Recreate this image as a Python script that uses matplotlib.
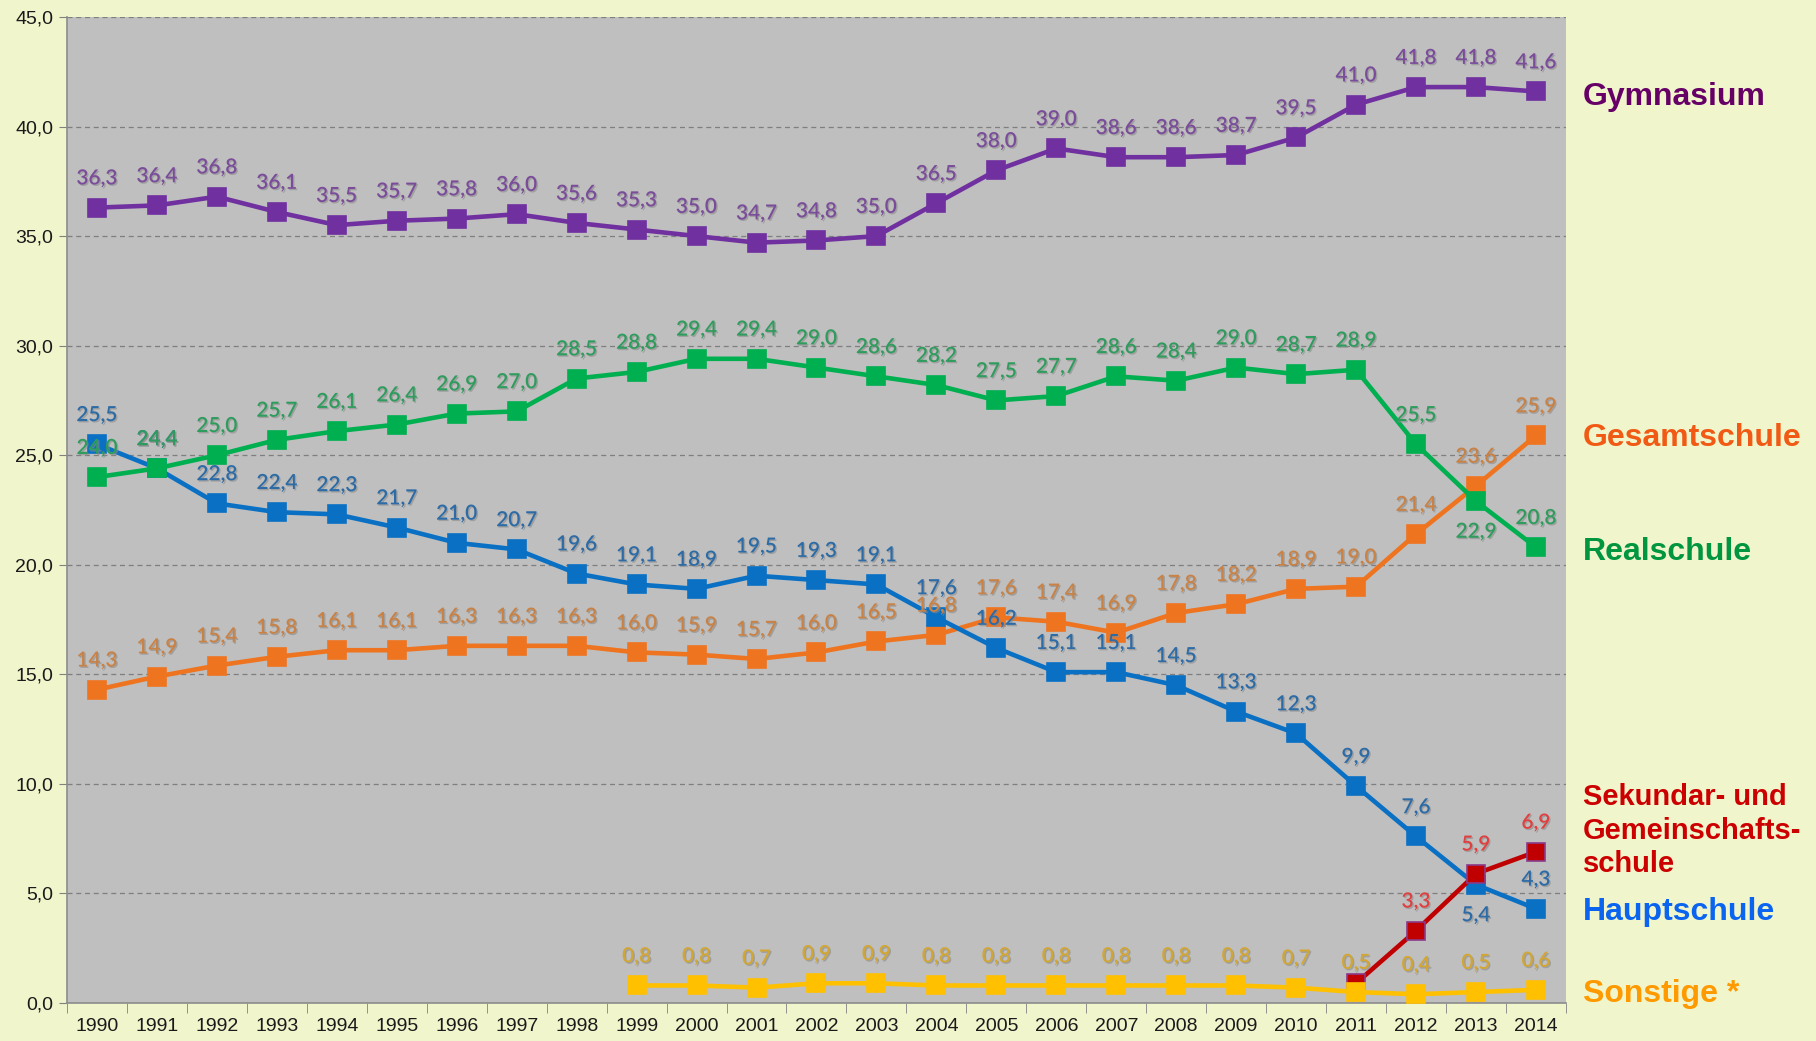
import matplotlib.pyplot as plt
import matplotlib.patheffects as pe
from matplotlib.ticker import FixedLocator, FuncFormatter

# --- data ---
years = list(range(1990, 2015))

gymnasium = [36.3, 36.4, 36.8, 36.1, 35.5, 35.7, 35.8, 36.0, 35.6, 35.3, 35.0, 34.7, 34.8,
             35.0, 36.5, 38.0, 39.0, 38.6, 38.6, 38.7, 39.5, 41.0, 41.8, 41.8, 41.6]
realschule = [24.0, 24.4, 25.0, 25.7, 26.1, 26.4, 26.9, 27.0, 28.5, 28.8, 29.4, 29.4, 29.0,
              28.6, 28.2, 27.5, 27.7, 28.6, 28.4, 29.0, 28.7, 28.9, 25.5, 22.9, 20.8]
hauptschule = [25.5, 24.4, 22.8, 22.4, 22.3, 21.7, 21.0, 20.7, 19.6, 19.1, 18.9, 19.5, 19.3,
               19.1, 17.6, 16.2, 15.1, 15.1, 14.5, 13.3, 12.3, 9.9, 7.6, 5.4, 4.3]
gesamtschule = [14.3, 14.9, 15.4, 15.8, 16.1, 16.1, 16.3, 16.3, 16.3, 16.0, 15.9, 15.7, 16.0,
                16.5, 16.8, 17.6, 17.4, 16.9, 17.8, 18.2, 18.9, 19.0, 21.4, 23.6, 25.9]
sekundar_years = [2011, 2012, 2013, 2014]
sekundar = [0.9, 3.3, 5.9, 6.9]
sekundar_labelled = [False, True, True, True]
sonstige_years = list(range(1999, 2015))
sonstige = [0.8, 0.8, 0.7, 0.9, 0.9, 0.8, 0.8, 0.8, 0.8, 0.8, 0.8, 0.7, 0.5, 0.4, 0.5, 0.6]

# labels that sit below their marker instead of above
below = {("Realschule", 2013), ("Hauptschule", 2013)}

series_names = ["Gymnasium", "Gesamtschule", "Realschule",
                "Sekundar- und\nGemeinschafts-\nschule", "Hauptschule", "Sonstige *"]

bg = "#F1F5CC"
fig = plt.figure(figsize=(18.16, 10.41), dpi=100, facecolor=bg)
ax = fig.add_axes([0.0369, 0.0365, 0.8254, 0.9472])
ax.set_facecolor("#BFBFBF")

def idx(yrs):
    return [y - 1990 for y in yrs]

label_font = dict(family=["Lato", "DejaVu Sans"], fontsize=15, fontweight="semibold")
shadow = [pe.withSimplePatchShadow(offset=(1, -1), shadow_rgbFace="#8A8A8A", alpha=0.6)]

def draw(name, yrs, vals, line_c, text_c, edge_c=None, labelled=None, z=3):
    xs = idx(yrs)
    ax.plot(xs, vals, color=line_c, lw=3.3, marker="s", ms=13,
            mfc=line_c, mec=edge_c or line_c, mew=1.2, zorder=z)
    for i, (x, v) in enumerate(zip(xs, vals)):
        if labelled is not None and not labelled[i]:
            continue
        dy = -22 if (name, yrs[i]) in below else 21
        ax.annotate(f"{v:.1f}".replace(".", ","), (x, v), xytext=(0, dy),
                    textcoords="offset points", ha="center", va="center",
                    color=text_c, path_effects=shadow, zorder=6, **label_font)

draw("Gesamtschule", years, gesamtschule, "#EE7420", "#C98246")
draw("Hauptschule", years, hauptschule, "#0A70C4", "#2C6BA6")
draw("Realschule", years, realschule, "#00AF50", "#2E9C5C")
draw("Gymnasium", years, gymnasium, "#7030A0", "#7A4C9A")
draw("Sekundar", sekundar_years, sekundar, "#C00000", "#E04040", edge_c="#8A3A8A",
     labelled=sekundar_labelled, z=3)
draw("Sonstige", sonstige_years, sonstige, "#FFC000", "#D2A634", z=4)

# axes styling, Excel-like category axis
ax.set_xlim(-0.5, len(years) - 0.5)
ax.set_ylim(0, 45)
ax.xaxis.set_major_locator(FixedLocator(range(len(years))))
ax.xaxis.set_minor_locator(FixedLocator([i - 0.5 for i in range(len(years) + 1)]))
ax.set_xticklabels([str(y) for y in years])
ax.yaxis.set_major_locator(FixedLocator([i * 5 for i in range(10)]))
ax.yaxis.set_major_formatter(FuncFormatter(lambda v, p: f"{v:.1f}".replace(".", ",")))
tick_font = dict(labelsize=14, labelcolor="#1A1A1A", labelfontfamily="Liberation Sans")
ax.tick_params(axis="x", which="major", length=0, pad=11, **tick_font)
ax.tick_params(axis="x", which="minor", length=7, color="#808080", direction="out")
ax.tick_params(axis="y", length=6, color="#808080", pad=4, **tick_font)

ax.grid(axis="y", color="#7F7F7F", ls=(0, (4, 3)), lw=0.9)
ax.set_axisbelow(True)
for s in ["top", "right"]:
    ax.spines[s].set_visible(False)
for s in ["left", "bottom"]:
    ax.spines[s].set_color("#8C8C8C")
    ax.spines[s].set_linewidth(1.2)

# series names on the right
name_colors = ["#660066", "#F05A14", "#00953F", "#CC0000", "#0A64F0", "#FF9900"]
name_y = [0.907, 0.579, 0.470, 0.202, 0.124, 0.045]
for name, c, y in zip(series_names, name_colors, name_y):
    size = 21 if "\n" in name else 23
    fig.text(0.8717, y, name, color=c, fontsize=size, fontweight="bold",
             family=["Liberation Sans", "DejaVu Sans"], va="center", linespacing=1.25)

fig.savefig("out.png", dpi=100, facecolor=bg)
